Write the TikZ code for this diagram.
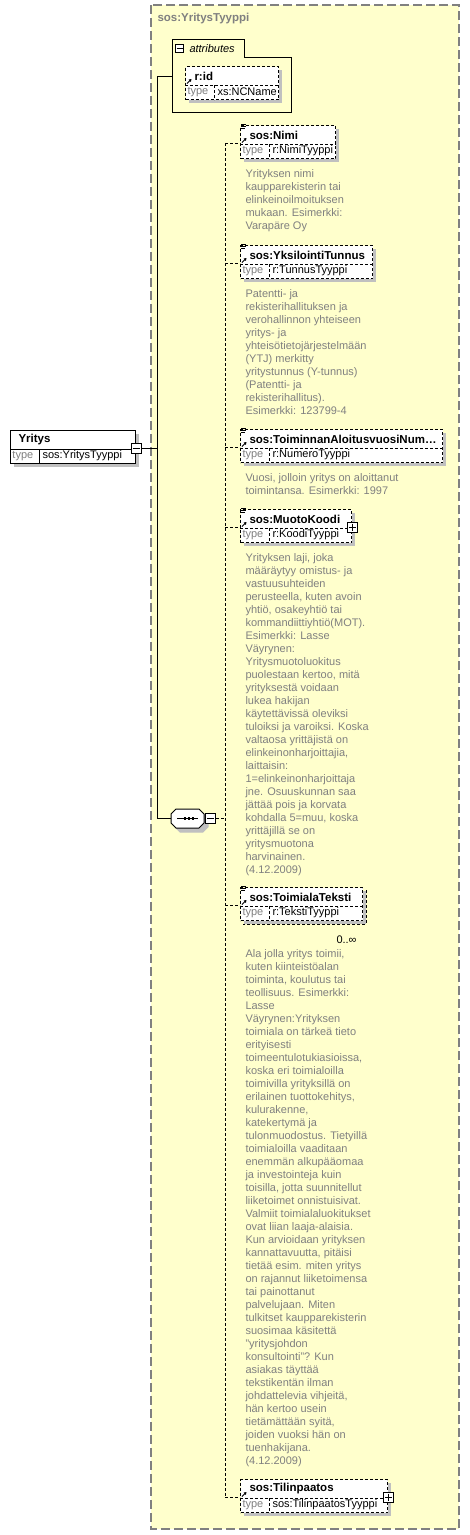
\documentclass[tikz,border=0pt]{standalone}
\usepackage{fontspec}
\setmainfont{Liberation Sans}
\usetikzlibrary{arrows.meta}
\definecolor{xsdyellow}{RGB}{255,255,204}
\definecolor{xsdgrey}{RGB}{128,128,128}
\definecolor{xsdshadow}{RGB}{192,192,192}
\begin{document}
\begin{tikzpicture}[x=1pt,y=-1pt,line width=1pt,
    every node/.style={font=\fontsize{11}{13}\selectfont},
    box/.style={draw, fill=white, inner sep=0pt, anchor=north west},
    refline/.style={dash pattern=on 3pt off 2pt},
    refbox/.style={box, refline},
    expander/.style={draw, fill=white, inner sep=0pt, minimum size=10pt},
    lbl/.style={anchor=west, inner sep=0pt, font=\fontsize{11.5}{13}\selectfont\bfseries},
    typ/.style={anchor=west, inner sep=0pt},
    desc/.style={anchor=north west, inner sep=0pt, align=left, text=xsdgrey},
    shade/.style={fill=xsdshadow}]
\useasboundingbox (0,0) rectangle (470,1535);

% complex type frame
\draw[xsdgrey, fill=xsdyellow, line width=1.5pt, dash pattern=on 9pt off 4pt] (151,5) rectangle (459,1529);
\node[lbl, text=xsdgrey] (tname) at (157,19) {sos:YritysTyyppi};

% root element
\fill[shade] (14,434) rectangle ++(125,33);
\node[box, minimum width=125pt, minimum height=33pt] (yritys) at (10,430) {};
\draw ([yshift=-19pt]yritys.north west) -- ([yshift=-19pt]yritys.north east);
\draw ([xshift=29pt,yshift=-19pt]yritys.north west) -- ([xshift=29pt]yritys.south west);
\node[lbl] at ([xshift=8pt,yshift=-10pt]yritys.north west) {Yritys};
\node[typ, text=xsdgrey] at ([xshift=2pt,yshift=-26pt]yritys.north west) {type};
\node[typ] at ([xshift=32pt,yshift=-26pt]yritys.north west) {sos:YritysTyyppi};
\node[expander] (ymin) at ([yshift=-18pt]yritys.north east) {};
\draw ([xshift=2pt]ymin.west) -- ([xshift=-2pt]ymin.east);

% attributes
\draw[fill=xsdyellow] (172,112) -- (172,39) -- (244,39) -- (244,57) -- (291,57) -- (291,112) -- cycle;
\node[expander, minimum size=8pt] (attrmin) at (179.5,48.5) {};
\draw ([xshift=1.5pt]attrmin.west) -- ([xshift=-1.5pt]attrmin.east);
\node[anchor=west, inner sep=0pt, font=\fontsize{11}{13}\selectfont\itshape] (attrlbl) at (189,48.5) {attributes};
\coordinate (attr-in) at (172,76);

% sequence
\foreach \s/\c/\d in {4/xsdshadow/xsdshadow, 0/white/black}
  \draw[fill=\c, draw=\d, shift={(\s,\s)}] (176,809) -- (199,809) -- (204,814) -- (204,823) -- (199,828) -- (176,828) -- (171,823) -- (171,814) -- cycle;
\node[inner sep=0pt, minimum width=33pt, minimum height=19pt] (seq) at (187.5,818.5) {};
\draw (177,818.5) -- (198,818.5);
\foreach \dx in {183.5,187.5,191.5}
  \fill (\dx,817.2) rectangle ++(2.6,2.6);
\node[expander] (seqmin) at (210.5,818.5) {};
\draw ([xshift=2pt]seqmin.west) -- ([xshift=-2pt]seqmin.east);
\draw (seq.east) -- (seqmin.west);

% child elements
\foreach \id/\x/\y/\w/\elname/\eltype in {
    rid/185/66/93/r:id/xs:NCName,
    nimi/240/125/95/sos:Nimi/r:NimiTyyppi,
    tunnus/240/245/132/sos:YksilointiTunnus/r:TunnusTyyppi,
    aloitus/240/429/202/sos:ToiminnanAloitusvuosiNum\ldots/r:NumeroTyyppi,
    muoto/240/509/111/sos:MuotoKoodi/r:KoodiTyyppi,
    toimiala/240/887/122/sos:ToimialaTeksti/r:TekstiTyyppi,
    tilin/240/1479/147/sos:Tilinpaatos/sos:TilinpaatosTyyppi}{
  \fill[shade] (\x+4,\y+4) rectangle ++(\w,33);
  \node[refbox, minimum width=\w, minimum height=33pt] (\id) at (\x,\y) {};
  \draw[refline] ([yshift=-19pt]\id.north west) -- ([yshift=-19pt]\id.north east);
  \draw[refline] ([xshift=29pt,yshift=-19pt]\id.north west) -- ([xshift=29pt]\id.south west);
  \node[lbl] at ([xshift=9pt,yshift=-10pt]\id.north west) {\elname};
  \node[typ, text=xsdgrey] at ([xshift=2pt,yshift=-26pt]\id.north west) {type};
  \node[typ] at ([xshift=32pt,yshift=-26pt]\id.north west) {\eltype};
  \draw[-{Triangle[length=2.5pt,width=3pt]}, line width=0.9pt] ([xshift=2pt,yshift=-17.5pt]\id.north west) -- ([xshift=6.5pt,yshift=-13pt]\id.north west);
  \coordinate (\id-in) at ([yshift=-18pt]\id.north west);
}
\foreach \id in {nimi,tunnus,aloitus,muoto,toimiala}
  \draw[line width=0.9pt] ([xshift=1pt,yshift=1pt]\id.north west) -- ++(5,0) ++(-5,2) -- ++(5,0) ++(-5,2) -- ++(4,0);

% repeated element
\draw[refline] ([xshift=3pt,yshift=-3pt]toimiala.north east) -- ([xshift=3pt,yshift=-3pt]toimiala.south east) -- ([xshift=3pt,yshift=-3pt]toimiala.south west);
\node[typ] (occ) at (336,940) {0..∞};

% expand boxes
\foreach \id in {muoto,tilin}{
  \node[expander] (\id-plus) at ([yshift=-18pt]\id.north east) {};
  \draw ([xshift=2pt]\id-plus.west) -- ([xshift=-2pt]\id-plus.east) ([yshift=-2pt]\id-plus.north) -- ([yshift=2pt]\id-plus.south);
}

% connectors
\coordinate (spine) at (157,0);
\coordinate (bus) at (225,0);
\draw (ymin.east) -- (spine|-ymin.east);
\draw (attr-in) -- (spine|-attr-in) -- (spine|-seq.west) -- (seq.west);
\draw[refline] (seqmin.east) -- (bus|-seqmin.east);
\draw[refline] (bus|-nimi-in) -- (bus|-tilin-in);
\foreach \id in {nimi,tunnus,aloitus,muoto,toimiala,tilin}
  \draw[refline] (bus|-\id-in) -- (\id-in);

% documentation
\node[desc] (nimidoc) at (245,169.5) {Yrityksen nimi\\kaupparekisterin tai\\elinkeinoilmoituksen\\mukaan. Esimerkki:\\Varapäre Oy};
\node[desc] (tunnusdoc) at (245,289.5) {Patentti- ja\\rekisterihallituksen ja\\verohallinnon yhteiseen\\yritys- ja\\yhteisötietojärjestelmään\\(YTJ) merkitty\\yritystunnus (Y-tunnus)\\(Patentti- ja\\rekisterihallitus).\\Esimerkki: 123799-4};
\node[desc] (aloitusdoc) at (245,473) {Vuosi, jolloin yritys on aloittanut\\toimintansa. Esimerkki: 1997};
\node[desc] (muotodoc) at (245,553) {Yrityksen laji, joka\\määräytyy omistus- ja\\vastuusuhteiden\\perusteella, kuten avoin\\yhtiö, osakeyhtiö tai\\kommandiittiyhtiö(MOT).\\Esimerkki: Lasse\\Väyrynen:\\Yritysmuotoluokitus\\puolestaan kertoo, mitä\\yrityksestä voidaan\\lukea hakijan\\käytettävissä oleviksi\\tuloiksi ja varoiksi. Koska\\valtaosa yrittäjistä on\\elinkeinonharjoittajia,\\laittaisin:\\1=elinkeinonharjoittaja\\jne. Osuuskunnan saa\\jättää pois ja korvata\\kohdalla 5=muu, koska\\yrittäjillä se on\\yritysmuotona\\harvinainen.\\(4.12.2009)};
\node[desc] (toimialadoc) at (245,949) {Ala jolla yritys toimii,\\kuten kiinteistöalan\\toiminta, koulutus tai\\teollisuus. Esimerkki:\\Lasse\\Väyrynen:Yrityksen\\toimiala on tärkeä tieto\\erityisesti\\toimeentulotukiasioissa,\\koska eri toimialoilla\\toimivilla yrityksillä on\\erilainen tuottokehitys,\\kulurakenne,\\katekertymä ja\\tulonmuodostus. Tietyillä\\toimialoilla vaaditaan\\enemmän alkupääomaa\\ja investointeja kuin\\toisilla, jotta suunnitellut\\liiketoimet onnistuisivat.\\Valmiit toimialaluokitukset\\ovat liian laaja-alaisia.\\Kun arvioidaan yrityksen\\kannattavuutta, pitäisi\\tietää esim. miten yritys\\on rajannut liiketoimensa\\tai painottanut\\palvelujaan. Miten\\tulkitset kaupparekisterin\\suosimaa käsitettä\\"yritysjohdon\\konsultointi"? Kun\\asiakas täyttää\\tekstikentän ilman\\johdattelevia vihjeitä,\\hän kertoo usein\\tietämättään syitä,\\joiden vuoksi hän on\\tuenhakijana.\\(4.12.2009)};
\end{tikzpicture}
\end{document}
